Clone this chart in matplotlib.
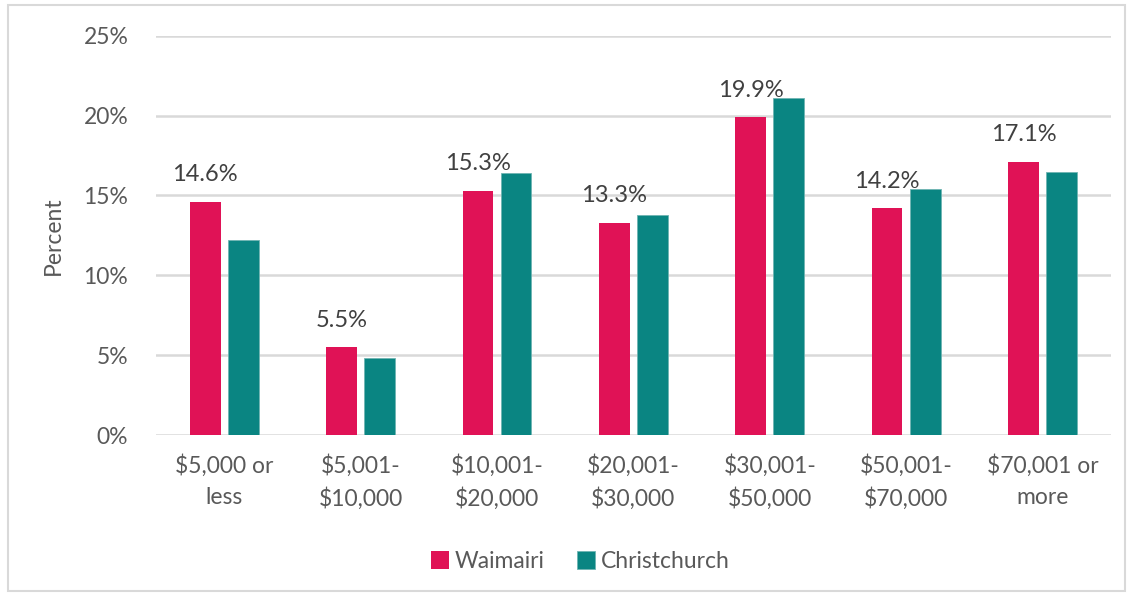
import matplotlib.pyplot as plt
from matplotlib.patches import Rectangle
import numpy as np

# Daten
categories = ['$5,000 or\nless', '$5,001-\n$10,000', '$10,001-\n$20,000', '$20,001-\n$30,000',
              '$30,001-\n$50,000', '$50,001-\n$70,000', '$70,001 or\nmore']
waimairi = [14.6, 5.5, 15.3, 13.3, 19.9, 14.2, 17.1]
christchurch = [12.2, 4.8, 16.4, 13.8, 21.1, 15.4, 16.5]
series_names = ['Waimairi', 'Christchurch']
y_ticks = [0, 5, 10, 15, 20, 25]

pink = '#E01256'
teal = '#0A8582'
grey = '#595959'
fs = 16.5

plt.rcParams['font.family'] = ['Lato', 'DejaVu Sans']
plt.rcParams['text.color'] = grey

fig = plt.figure(figsize=(11.31, 5.96), dpi=100)
ax = fig.add_axes([0.138, 0.270, 0.844, 0.670])

# Rahmen um die Grafik
fig.patches.append(Rectangle((0.007, 0.008), 0.988, 0.984, transform=fig.transFigure,
                             fill=False, edgecolor='#D9D9D9', linewidth=1.5))

x = np.arange(len(categories))
w = 0.225
ax.bar(x - 0.14, waimairi, w, color=pink, label=series_names[0], zorder=3)
ax.bar(x + 0.14, christchurch, w, color=teal, edgecolor='#6FB5B2', linewidth=0.6,
       label=series_names[1], zorder=3)

# Beschriftung nur fuer Waimairi
for xi, v in zip(x, waimairi):
    ax.annotate(f'{v:.1f}%', (xi - 0.14, v), xytext=(0, 12), textcoords='offset points',
                ha='center', va='bottom', fontsize=fs + 0.5, color='#404040')

ax.set_xlim(-0.5, len(categories) - 0.5)
ax.set_ylim(0, 25)
ax.set_yticks(y_ticks)
ax.set_yticklabels([f'{t}%' for t in y_ticks])
ax.set_xticks(x)
ax.set_xticklabels(categories, linespacing=1.55)
ax.tick_params(axis='both', length=0, labelsize=fs, colors=grey)
ax.tick_params(axis='y', pad=20)
ax.tick_params(axis='x', pad=14)

ax.grid(axis='y', color='#D9D9D9', linewidth=1.8, zorder=0)
for s in ax.spines.values():
    s.set_visible(False)

ax.set_ylabel('Percent', fontsize=fs, color=grey, labelpad=14)

# Legende mittig unter der Grafik
fig.legend(*ax.get_legend_handles_labels(), loc='center', bbox_to_anchor=(0.513, 0.058),
           ncol=2, frameon=False, fontsize=fs, handlelength=0.8, handleheight=0.8,
           handletextpad=0.25, columnspacing=1.4, labelcolor=grey)

plt.savefig('out.png', dpi=100)
